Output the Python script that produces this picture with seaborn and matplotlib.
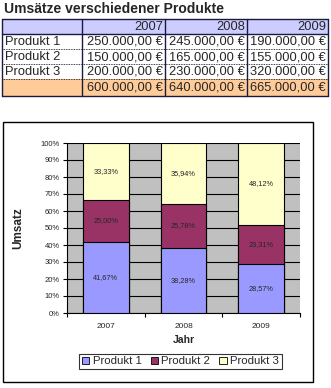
import matplotlib
matplotlib.use("Agg")
import matplotlib.pyplot as plt
import seaborn as sns
import pandas as pd
from matplotlib.patches import Rectangle, Patch

# ---- data ----
years = ["2007", "2008", "2009"]
products = ["Produkt 1", "Produkt 2", "Produkt 3"]
produkt1 = [250000, 245000, 190000]
produkt2 = [150000, 165000, 155000]
produkt3 = [200000, 230000, 320000]
title = "Umsätze verschiedener Produkte"
colors = ["#9999FF", "#993366", "#FFFFCC"]

sns.set_theme(style="white")
plt.rcParams["font.family"] = ["Liberation Sans", "DejaVu Sans"]

W, H = 331, 388
fig = plt.figure(figsize=(W / 100, H / 100), dpi=100)
fig.patch.set_facecolor("white")

# ---- table drawn in pixel coordinates ----
axt = fig.add_axes([0, 0, 1, 1])
axt.set_xlim(0, W)
axt.set_ylim(H, 0)
axt.axis("off")

def fmt(v):
    s = f"{v:,.2f}".replace(",", "X").replace(".", ",").replace("X", ".")
    return s + " €"

axt.text(4, 9, title, fontsize=10, fontweight="bold", va="center", ha="left")

cols = [2, 82, 165, 247, 328]
rows = [19, 34, 49, 64, 79, 96]
axt.add_patch(Rectangle((cols[0], rows[0]), cols[-1] - cols[0], rows[1] - rows[0],
                        facecolor="#CCCCFF", edgecolor="none"))
axt.add_patch(Rectangle((cols[0], rows[4]), cols[-1] - cols[0], rows[5] - rows[4],
                        facecolor="#FFCC99", edgecolor="none"))
for i, y in enumerate(rows):
    if i in (2, 3, 4):
        axt.plot([cols[0], cols[-1]], [y, y], color="black", lw=0.6, ls=(0, (1, 1)))
    else:
        axt.plot([cols[0], cols[-1]], [y, y], color="#1a1a40", lw=1.0)
for x in cols:
    axt.plot([x, x], [rows[0], rows[-1]], color="#1a1a40", lw=1.0)

fs = 9.3
for j, yr in enumerate(years):
    axt.text(cols[j + 2] - 2, (rows[0] + rows[1]) / 2 + 0.5, yr, fontsize=fs,
             ha="right", va="center")
series = [produkt1, produkt2, produkt3]
for i, (name, vals) in enumerate(zip(products, series)):
    yc = (rows[i + 1] + rows[i + 2]) / 2 + 0.5
    axt.text(cols[0] + 3, yc, name, fontsize=fs, ha="left", va="center")
    for j, v in enumerate(vals):
        axt.text(cols[j + 2] - 2, yc, fmt(v), fontsize=fs, ha="right", va="center")
totals = [a + b + c for a, b, c in zip(produkt1, produkt2, produkt3)]
for j, v in enumerate(totals):
    axt.text(cols[j + 2] - 2, (rows[4] + rows[5]) / 2 + 0.5, fmt(v), fontsize=fs,
             ha="right", va="center")

# chart frame
axt.add_patch(Rectangle((3, 122), 310, 260, facecolor="white", edgecolor="black", lw=1.0))

# ---- stacked percent bar chart ----
p1 = [a / t * 100 for a, t in zip(produkt1, totals)]
p2 = [b / t * 100 for b, t in zip(produkt2, totals)]
p3 = [c / t * 100 for c, t in zip(produkt3, totals)]
df = pd.DataFrame({
    "Jahr": years,
    "c1": p1,
    "c2": [a + b for a, b in zip(p1, p2)],
    "c3": [a + b + c for a, b, c in zip(p1, p2, p3)],
})

ax = fig.add_axes([67 / W, 1 - 313 / H, 233 / W, 170 / H])
ax.set_facecolor("#C0C0C0")
for col, c in zip(["c3", "c2", "c1"], colors[::-1]):
    sns.barplot(data=df, x="Jahr", y=col, color=c, width=0.59, edgecolor="black",
                linewidth=0.8, saturation=1, ax=ax, zorder=3)
ax.set_ylim(0, 100)
ax.set_xlim(-0.5, 2.5)
ax.set_yticks(range(0, 101, 10))
ax.set_yticklabels([f"{v}%" for v in range(0, 101, 10)], fontsize=5.5)
ax.yaxis.grid(True, color="black", lw=0.8, zorder=0)
ax.set_axisbelow(True)
ax.tick_params(axis="y", length=3, width=0.8, color="black", pad=2, left=True)
ax.set_xticks([0, 1, 2])
ax.set_xticklabels(years, fontsize=6)
ax.set_xticks([-0.5, 0.5, 1.5, 2.5], minor=True)
ax.tick_params(axis="x", which="major", length=0, pad=7)
ax.tick_params(axis="x", which="minor", length=3, width=0.8, color="black", bottom=True)
for s in ["top", "right"]:
    ax.spines[s].set_visible(False)
for s in ["left", "bottom"]:
    ax.spines[s].set_color("black")
    ax.spines[s].set_linewidth(0.8)
ax.set_xlabel("Jahr", fontsize=7.5, fontweight="bold", labelpad=4)
ax.set_ylabel("Umsatz", fontsize=8.5, fontweight="bold", labelpad=12)

def pct(v):
    return f"{v:.2f}".replace(".", ",") + "%"

lfs = 5.3
for j in range(3):
    ax.text(j, p1[j] / 2, pct(p1[j]), ha="center", va="center", fontsize=lfs, zorder=5)
    ax.text(j, p1[j] + p2[j] / 2, pct(p2[j]), ha="center", va="center", fontsize=lfs, zorder=5)
    ax.text(j, p1[j] + p2[j] + p3[j] / 2, pct(p3[j]), ha="center", va="center", fontsize=lfs, zorder=5)

handles = [Patch(facecolor=c, edgecolor="black", lw=0.6) for c in colors]
leg = fig.legend(handles, products, loc="center", bbox_to_anchor=(180.5 / W, 1 - 361.5 / H),
                 ncol=3, fontsize=8.2, frameon=True, fancybox=False, edgecolor="black",
                 handlelength=0.65, handleheight=0.65, handletextpad=0.3, columnspacing=0.8,
                 borderpad=0.25, borderaxespad=0)
leg.get_frame().set_linewidth(0.8)

fig.savefig("out.png", dpi=100)
